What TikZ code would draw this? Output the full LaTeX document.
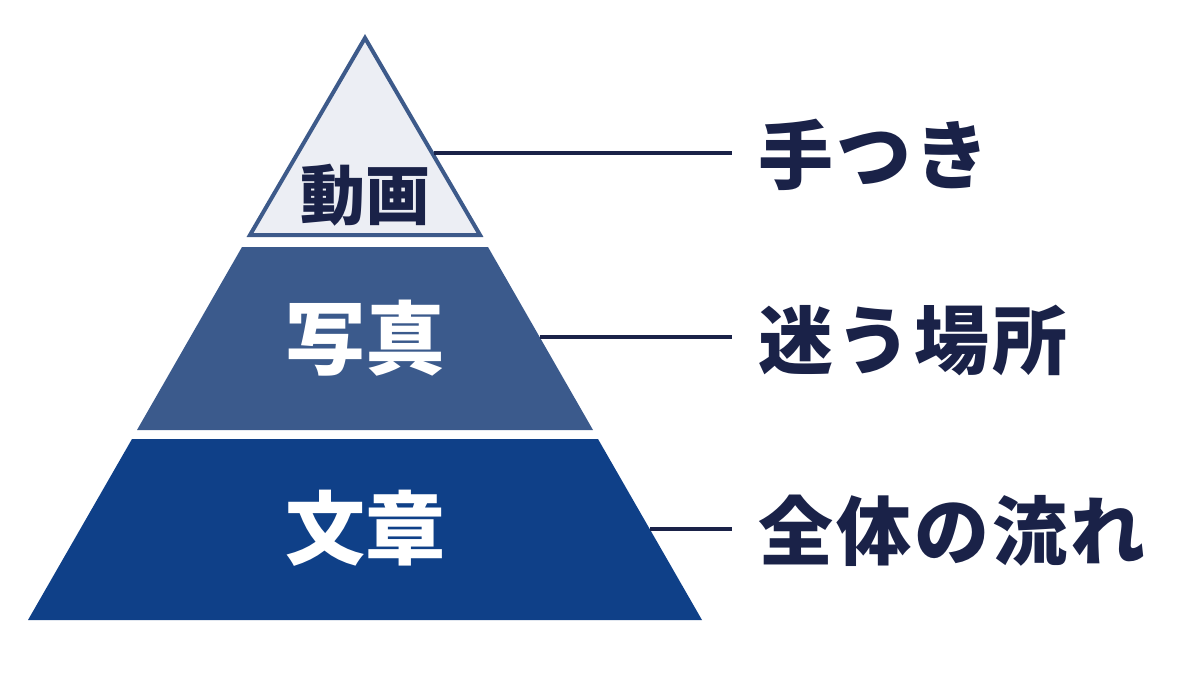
\documentclass[tikz,border=0pt]{standalone}
\usepackage{fontspec}
\newfontfamily\jpfont{Noto Sans CJK JP}
\usetikzlibrary{positioning}
\definecolor{navy}{HTML}{1A2248}
\definecolor{topfill}{HTML}{ECEEF4}
\definecolor{topedge}{HTML}{3D5A8A}
\definecolor{midfill}{HTML}{3B5A8C}
\definecolor{basefill}{HTML}{0F4088}

\begin{document}
\begin{tikzpicture}[x=1pt, y=-1pt,
    tierlabel/.style={font=\jpfont\bfseries\fontsize{80}{82}\selectfont, inner sep=0pt},
    sidelabel/.style={font=\jpfont\bfseries\fontsize{75}{78}\selectfont\addfontfeature{LetterSpace=4},
        text=navy, inner sep=0pt, anchor=west},
    leader/.style={draw=navy, line width=3.5pt}]

\useasboundingbox (0,0) rectangle (1200,675);

% pyramid tiers
\filldraw[fill=topfill, draw=topedge, line width=4pt, line join=miter]
    (365,38) -- (480,235) -- (250,235) -- cycle;
\fill[midfill] (242,247) -- (488,247) -- (593,430) -- (137,430) -- cycle;
\fill[basefill] (132,439) -- (598,439) -- (702,620) -- (28,620) -- cycle;

\node[tierlabel, text=navy, font=\jpfont\bfseries\fontsize{65}{67}\selectfont] (video) at (365,195) {動画};
\node[tierlabel, text=white] (photo) at (365,338) {写真};
\node[tierlabel, text=white] (text) at (365,528) {文章};

% leader lines
\coordinate (edgeA) at (434,153);
\coordinate (edgeB) at (540,337);
\coordinate (edgeC) at (650,529);

\node[sidelabel] (hands) at (758,155) {手つき};
\node[sidelabel] (lost) at (758,340) {迷う場所};
\node[sidelabel] (flow) at (758,531) {全体の流れ};

\draw[leader] (edgeA) -- ([xshift=-26pt]hands.west |- edgeA);
\draw[leader] (edgeB) -- ([xshift=-26pt]lost.west |- edgeB);
\draw[leader] (edgeC) -- ([xshift=-26pt]flow.west |- edgeC);

\end{tikzpicture}
\end{document}
